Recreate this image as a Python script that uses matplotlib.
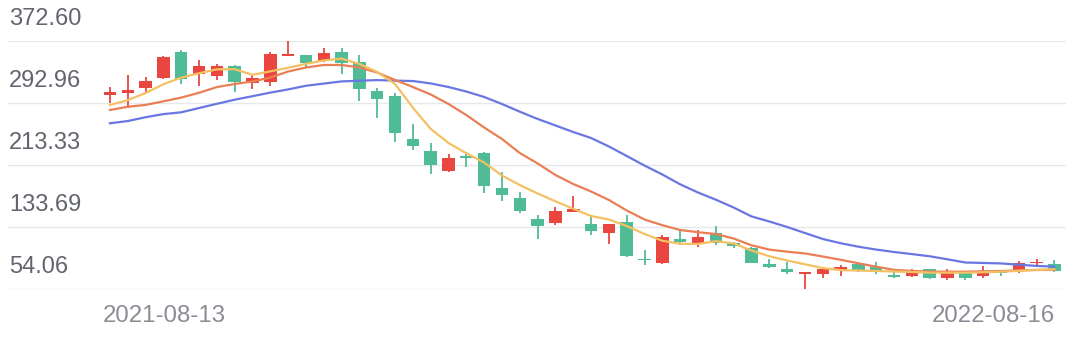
import numpy as np
import matplotlib.pyplot as plt
import matplotlib.transforms as mtransforms

# weekly candles
opens = [303.2, 305.4, 312.6, 324.7, 358.1, 330.2, 327.3, 340.5, 318.2, 320.3,
         353.7, 354.6, 346.9, 358.1, 345.2, 308.4, 302.0, 246.3, 231.7, 205.6,
         224.9, 229.1, 183.4, 171.3, 144.0, 138.4, 153.3, 137.5, 125.6, 140.5,
         92.6, 87.1, 117.9, 111.5, 125.6, 113.5, 106.3, 85.8, 79.4, 73.3,
         73.3, 78.5, 86.2, 82.7, 72.0, 70.8, 79.4, 67.8, 75.0, 70.8,
         77.2, 77.6, 87.1, 86.2]
closes = [306.7, 309.7, 321.2, 352.4, 323.8, 340.5, 340.9, 320.3, 325.5, 355.5,
          355.5, 344.0, 356.8, 344.0, 310.9, 298.1, 254.8, 237.7, 213.3, 221.9,
          222.7, 186.4, 174.8, 154.6, 135.4, 154.2, 156.8, 128.6, 137.2, 96.4,
          90.7, 120.5, 114.4, 120.5, 113.5, 109.3, 87.8, 82.7, 76.3, 75.5,
          79.7, 81.9, 77.6, 76.3, 69.9, 78.5, 68.6, 77.2, 67.8, 77.2,
          75.0, 87.1, 89.1, 77.6]
lows = [292.6, 286.9, 306.7, 323.8, 317.0, 315.2, 322.5, 307.5, 310.6, 314.8,
        353.7, 337.5, 345.2, 329.8, 295.5, 274.1, 242.5, 232.6, 201.4, 204.0,
        211.1, 177.0, 167.1, 152.1, 118.3, 136.3, 153.3, 123.4, 111.5, 94.8,
        84.9, 85.8, 110.6, 108.4, 110.6, 107.1, 87.1, 80.6, 73.3, 54.06,
        68.6, 70.8, 76.3, 73.3, 67.8, 69.1, 66.5, 65.6, 65.6, 68.6,
        70.8, 74.2, 84.0, 76.3]
highs = [313.9, 328.9, 326.7, 353.3, 361.0, 348.2, 342.7, 341.8, 329.8, 358.1,
         372.6, 355.0, 364.0, 363.2, 354.6, 311.8, 305.4, 265.6, 241.2, 227.1,
         230.4, 229.8, 204.7, 179.0, 149.1, 159.8, 173.9, 149.1, 137.8, 149.1,
         104.2, 123.4, 128.9, 129.8, 135.0, 114.0, 108.4, 92.2, 89.1, 75.5,
         82.7, 84.9, 87.8, 89.1, 76.3, 79.7, 80.0, 79.7, 75.5, 84.0,
         78.5, 90.0, 92.2, 91.3]

# moving averages as drawn on the chart
ma5 = [290.4, 296.6, 305.8, 317.1, 325.6, 331.2, 336.2, 336.4, 329.2, 333.6,
       338.2, 343.3, 347.7, 350.0, 343.1, 332.8, 317.4, 286.9, 259.7, 241.6,
       228.4, 216.5, 199.8, 187.6, 176.7, 166.7, 157.1, 147.8, 143.3, 135.0,
       124.7, 116.0, 112.2, 111.9, 115.5, 112.6, 103.5, 96.1, 90.7, 85.8,
       81.0, 78.3, 77.8, 77.2, 76.5, 75.9, 75.1, 75.0, 75.0, 75.6,
       76.3, 77.4, 78.6, 79.4]
ma10 = [284.0, 288.1, 290.5, 295.1, 299.9, 306.1, 313.4, 317.4, 320.6, 325.7,
        333.4, 338.6, 341.8, 341.8, 338.6, 332.1, 322.5, 313.5, 303.9, 291.7,
        277.5, 261.5, 246.7, 228.7, 215.3, 200.5, 188.9, 179.3, 168.4, 154.9,
        143.3, 136.0, 129.8, 127.0, 124.7, 118.9, 110.2, 104.7, 102.0, 99.7,
        95.8, 91.6, 87.1, 82.7, 78.7, 77.2, 76.4, 76.3, 76.3, 76.8,
        77.2, 78.0, 78.5, 78.5]
ma20 = [266.9, 269.8, 274.7, 278.7, 281.0, 286.5, 291.9, 297.2, 301.7, 306.3,
        310.4, 315.1, 317.9, 320.7, 321.6, 322.4, 321.7, 321.2, 318.1, 313.5,
        307.7, 300.7, 291.7, 281.8, 272.5, 264.1, 255.7, 248.0, 237.1, 224.9,
        212.6, 201.1, 188.5, 178.0, 168.8, 158.7, 147.3, 140.8, 133.7, 126.0,
        118.3, 112.9, 108.4, 104.7, 101.6, 98.9, 96.1, 92.2, 88.1, 87.5,
        86.9, 85.3, 83.7, 82.7]

date_labels = ['2021-08-13', '2022-08-16']
y_ticks = [54.06, 133.69, 213.33, 292.96, 372.60]
y_labels = ['54.06', '133.69', '213.33', '292.96', '372.60']

up_color = '#e8463f'
down_color = '#4fbc96'

fig = plt.figure(figsize=(10.8, 3.4), dpi=100)
ax = fig.add_axes([8 / 1080, 51 / 340, 1058 / 1080, 248 / 340])

x = np.arange(len(opens))
o = np.array(opens)
c = np.array(closes)
colors = [up_color if cc >= oo else down_color for oo, cc in zip(o, c)]

# grid
for t in y_ticks:
    ax.axhline(t, color='#e6e8ec', lw=1, zorder=0)

ax.vlines(x, lows, highs, colors=colors, lw=1.3, zorder=2, clip_on=False)
bottom = np.minimum(o, c)
height = np.maximum(np.abs(c - o), 1.2)
ax.bar(x, height, bottom=bottom, width=0.7, color=colors, zorder=3, clip_on=False)

ax.plot(x, ma20, color='#6977e3', lw=1.6, zorder=4)
ax.plot(x, ma10, color='#ea7e55', lw=1.6, zorder=4)
ax.plot(x, ma5, color='#f4c062', lw=1.6, zorder=4)

ax.set_ylim(y_ticks[0], y_ticks[-1])
ax.set_xlim(-5.72, 53.65)
ax.set_xticks([])
ax.set_yticks([])
for s in ax.spines.values():
    s.set_visible(False)

font = ['Liberation Sans', 'DejaVu Sans']
ylab_tr = mtransforms.offset_copy(ax.get_yaxis_transform(), fig=fig, x=0, y=22, units='dots')
for t, lab in zip(y_ticks, y_labels):
    ax.text(0.001, t, lab, transform=ylab_tr, ha='left', va='center',
            fontsize=17, color='#62656e', family=font)

xlab_tr = mtransforms.offset_copy(ax.get_xaxis_transform(), fig=fig, x=0, y=-27, units='dots')
ax.text(-0.39, 0, date_labels[0], transform=xlab_tr, ha='left', va='center',
        fontsize=17.3, color='#8a8d95', family=font)
ax.text(53, 0, date_labels[1], transform=xlab_tr, ha='right', va='center',
        fontsize=17.3, color='#8a8d95', family=font)

fig.savefig('out.png', dpi=100)
